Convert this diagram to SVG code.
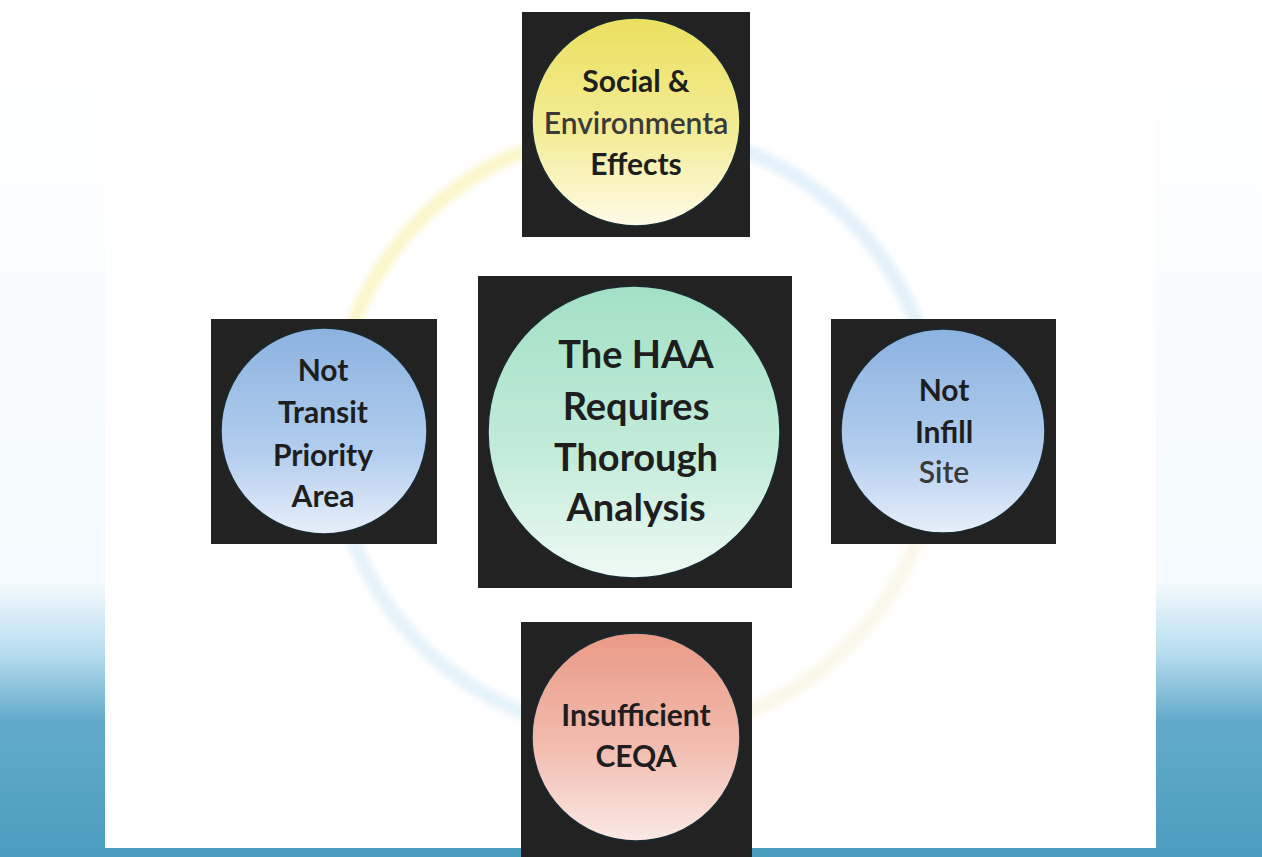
<svg xmlns="http://www.w3.org/2000/svg" width="1262" height="857" viewBox="0 0 1262 857">
  <defs>
    <linearGradient id="side" x1="0" y1="0" x2="0" y2="857" gradientUnits="userSpaceOnUse">
      <stop offset="0" stop-color="#ffffff"/>
      <stop offset="0.68" stop-color="#f4fafd"/>
      <stop offset="0.76" stop-color="#b9def0"/>
      <stop offset="0.84" stop-color="#63abca"/>
      <stop offset="1" stop-color="#4b9dbf"/>
    </linearGradient>
    <linearGradient id="gYellow" x1="0" y1="0" x2="0" y2="1">
      <stop offset="0" stop-color="#ebe060"/>
      <stop offset="0.55" stop-color="#f3ec96"/>
      <stop offset="1" stop-color="#fffbe8"/>
    </linearGradient>
    <linearGradient id="gGreen" x1="0" y1="0" x2="0" y2="1">
      <stop offset="0" stop-color="#a3e0c6"/>
      <stop offset="0.6" stop-color="#c4ecda"/>
      <stop offset="1" stop-color="#effaf5"/>
    </linearGradient>
    <linearGradient id="gBlue" x1="0" y1="0" x2="0" y2="1">
      <stop offset="0" stop-color="#8cb2e0"/>
      <stop offset="0.6" stop-color="#b2cdee"/>
      <stop offset="1" stop-color="#e6effa"/>
    </linearGradient>
    <linearGradient id="gPink" x1="0" y1="0" x2="0" y2="1">
      <stop offset="0" stop-color="#e99a86"/>
      <stop offset="0.55" stop-color="#f2bcaf"/>
      <stop offset="1" stop-color="#fbe9e5"/>
    </linearGradient>
    <filter id="soft" x="-10%" y="-10%" width="120%" height="120%">
      <feGaussianBlur stdDeviation="3"/>
    </filter>
    <style>
      .box { fill: #222222; }
      .disc { stroke: #1a2a30; stroke-width: 1.5; }
      .lbl { font-family: "Lato", "Open Sans", "Liberation Sans", sans-serif; font-weight: 700; fill: #1e1e1e; text-anchor: middle; }
      .sm { font-size: 30px; }
      .lg { font-size: 38px; }
      .grey { fill: #3a3a3a; font-weight: 600; }
      .ring { fill: none; stroke-width: 14; stroke-opacity: 0.75; }
    </style>
  </defs>

  <!-- background -->
  <rect x="0" y="0" width="1262" height="857" fill="#ffffff"/>
  <rect x="0" y="0" width="105" height="857" fill="url(#side)"/>
  <rect x="1156" y="0" width="106" height="857" fill="url(#side)"/>
  <rect x="0" y="848" width="1262" height="9" fill="#4b9dbf"/>

  <!-- faint ring -->
  <g id="ring" filter="url(#soft)">
    <path class="ring" d="M 333 432 A 302 302 0 0 1 635 130" stroke="#faf3b8"/>
    <path class="ring" d="M 635 130 A 302 302 0 0 1 937 432" stroke="#d8ebf8"/>
    <path class="ring" d="M 937 432 A 302 302 0 0 1 635 734" stroke="#f8f5e2"/>
    <path class="ring" d="M 635 734 A 302 302 0 0 1 333 432" stroke="#dcedf8"/>
  </g>

  <g id="connectors"></g>

  <g id="node-top">
    <rect class="box" x="522" y="12" width="228" height="225"/>
    <circle class="disc" cx="636" cy="122" r="104" fill="url(#gYellow)"/>
    <text class="lbl sm" x="636" y="92">Social &amp;</text>
    <text class="lbl sm grey" x="636" y="134">Environmenta</text>
    <text class="lbl sm" x="636" y="175">Effects</text>
  </g>

  <g id="node-center">
    <rect class="box" x="478" y="276" width="314" height="312"/>
    <circle class="disc" cx="634" cy="432" r="146" fill="url(#gGreen)"/>
    <text class="lbl lg" x="636" y="368">The HAA</text>
    <text class="lbl lg" x="636" y="420">Requires</text>
    <text class="lbl lg" x="636" y="471">Thorough</text>
    <text class="lbl lg" x="636" y="521">Analysis</text>
  </g>

  <g id="node-left">
    <rect class="box" x="211" y="319" width="226" height="225"/>
    <circle class="disc" cx="324" cy="431" r="103" fill="url(#gBlue)"/>
    <text class="lbl sm" x="323" y="381">Not</text>
    <text class="lbl sm" x="323" y="423">Transit</text>
    <text class="lbl sm" x="323" y="466">Priority</text>
    <text class="lbl sm" x="323" y="507">Area</text>
  </g>

  <g id="node-right">
    <rect class="box" x="831" y="319" width="225" height="225"/>
    <circle class="disc" cx="943" cy="431" r="102" fill="url(#gBlue)"/>
    <text class="lbl sm" x="944" y="401">Not</text>
    <text class="lbl sm" x="944" y="443">Infill</text>
    <text class="lbl sm grey" x="944" y="483">Site</text>
  </g>

  <g id="node-bottom">
    <rect class="box" x="521" y="622" width="231" height="235"/>
    <circle class="disc" cx="636" cy="737" r="104" fill="url(#gPink)"/>
    <text class="lbl sm" x="636" y="726">Insufficient</text>
    <text class="lbl sm" x="636" y="767">CEQA</text>
  </g>
</svg>
